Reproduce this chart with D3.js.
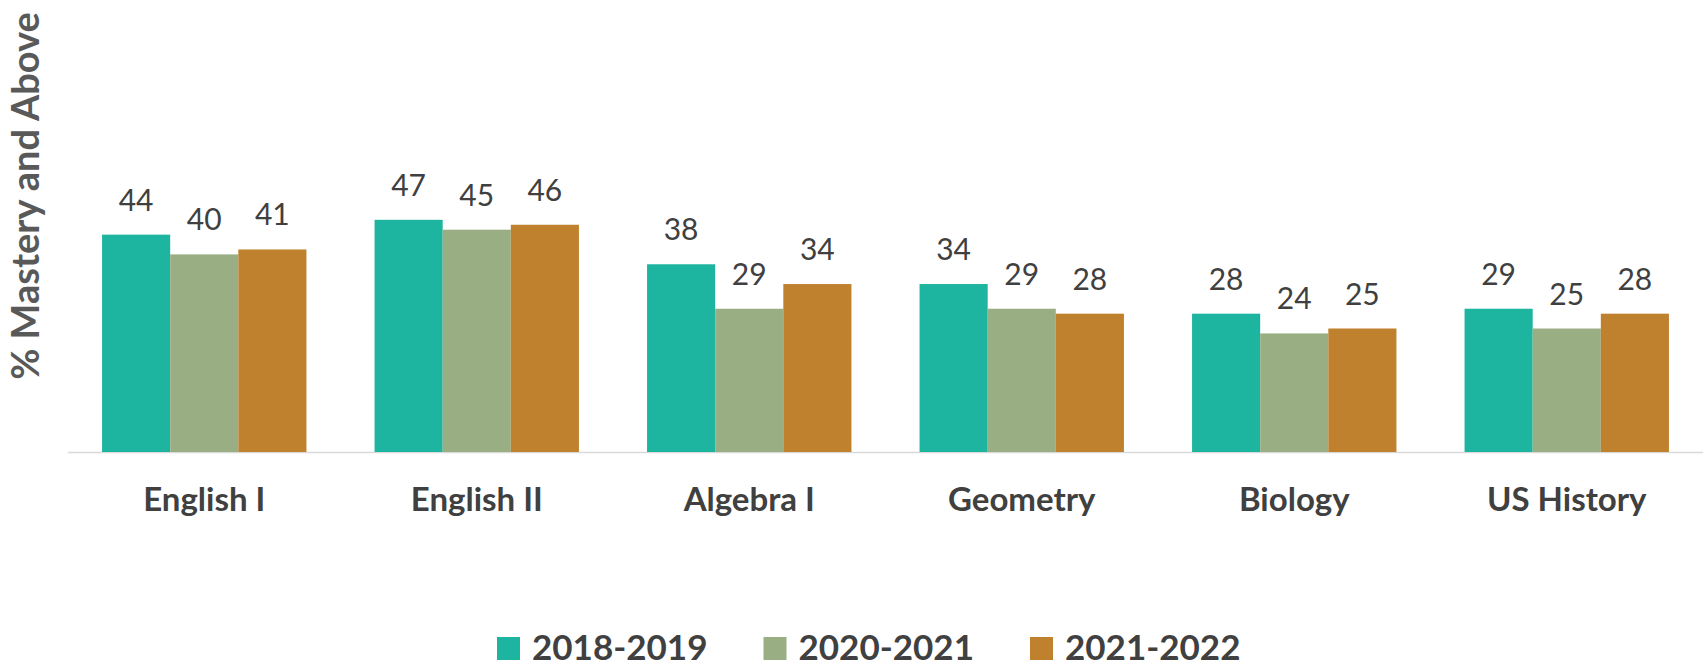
<!DOCTYPE html>
<html>
<head>
<meta charset="utf-8">
<script src="https://cdnjs.cloudflare.com/ajax/libs/d3/7.8.5/d3.min.js"></script>
<style>
  body { margin: 0; background: #fff; }
  text { font-family: Lato, "Open Sans", sans-serif; }
</style>
</head>
<body>
<div id="chart"></div>
<script>
const width = 1704;
const height = 667;

const subjects = ["English I", "English II", "Algebra I", "Geometry", "Biology", "US History"];
const years = ["2018-2019", "2020-2021", "2021-2022"];
const values2018 = [44, 47, 38, 34, 28, 29];
const values2020 = [40, 45, 29, 29, 24, 25];
const values2021 = [41, 46, 34, 28, 25, 28];
const colors = ["#1db4a0", "#99ae82", "#bf812e"];

const series = [values2018, values2020, values2021];
const rows = subjects.map((s, i) => ({
  subject: s,
  vals: years.map((y, j) => ({ year: y, value: series[j][i] }))
}));

var svg = d3.select("#chart")
  .append("svg")
  .attr("width", width)
  .attr("height", height);

const x0 = d3.scaleBand()
  .domain(subjects)
  .range([68, 1703])
  .paddingInner(0.25)
  .paddingOuter(0.125);

const x1 = d3.scaleBand()
  .domain(years)
  .range([0, x0.bandwidth()]);

const y = d3.scaleLinear()
  .domain([0, 50])
  .range([452, 452 - 50 * 4.94]);

const color = d3.scaleOrdinal().domain(years).range(colors);

// baseline
svg.append("line")
  .attr("x1", 68).attr("x2", 1703)
  .attr("y1", y(0) + 0.5).attr("y2", y(0) + 0.5)
  .attr("stroke", "#d9d9d9")
  .attr("stroke-width", 1.5);

const groups = svg.append("g")
  .selectAll("g")
  .data(rows)
  .enter()
  .append("g")
  .attr("transform", d => `translate(${x0(d.subject)},0)`);

groups.selectAll("rect")
  .data(d => d.vals)
  .enter()
  .append("rect")
  .attr("x", d => x1(d.year))
  .attr("y", d => y(d.value))
  .attr("width", x1.bandwidth())
  .attr("height", d => y(0) - y(d.value))
  .attr("fill", d => color(d.year));

groups.selectAll("text")
  .data(d => d.vals)
  .enter()
  .append("text")
  .attr("x", d => x1(d.year) + x1.bandwidth() / 2)
  .attr("y", d => y(d.value) - 24)
  .attr("text-anchor", "middle")
  .style("font-size", "30px")
  .style("fill", "#404040")
  .text(d => d.value);

// category axis labels
const xAxis = d3.axisBottom(x0).tickSize(0).tickPadding(0);
const gx = svg.append("g")
  .attr("transform", `translate(0,${y(0)})`)
  .call(xAxis);
gx.select(".domain").remove();
gx.selectAll("text")
  .attr("dy", null)
  .attr("y", 59)
  .style("font-family", "Lato, sans-serif")
  .style("font-size", "33px")
  .style("font-weight", "bold")
  .style("fill", "#404040");

// y axis title
svg.append("text")
  .attr("transform", "translate(39,196) rotate(-90)")
  .attr("text-anchor", "middle")
  .style("font-size", "38px")
  .style("font-weight", "bold")
  .style("fill", "#595959")
  .text("% Mastery and Above");

// legend
const legend = svg.append("g")
  .selectAll("g")
  .data(years)
  .enter()
  .append("g")
  .attr("transform", (d, i) => `translate(${497 + i * 266.5},637)`);

legend.append("rect")
  .attr("width", 23)
  .attr("height", 23)
  .attr("fill", d => color(d));

legend.append("text")
  .attr("x", 35)
  .attr("y", 23)
  .style("font-size", "35px")
  .style("font-weight", "bold")
  .style("fill", "#404040")
  .text(d => d);
</script>
</body>
</html>
